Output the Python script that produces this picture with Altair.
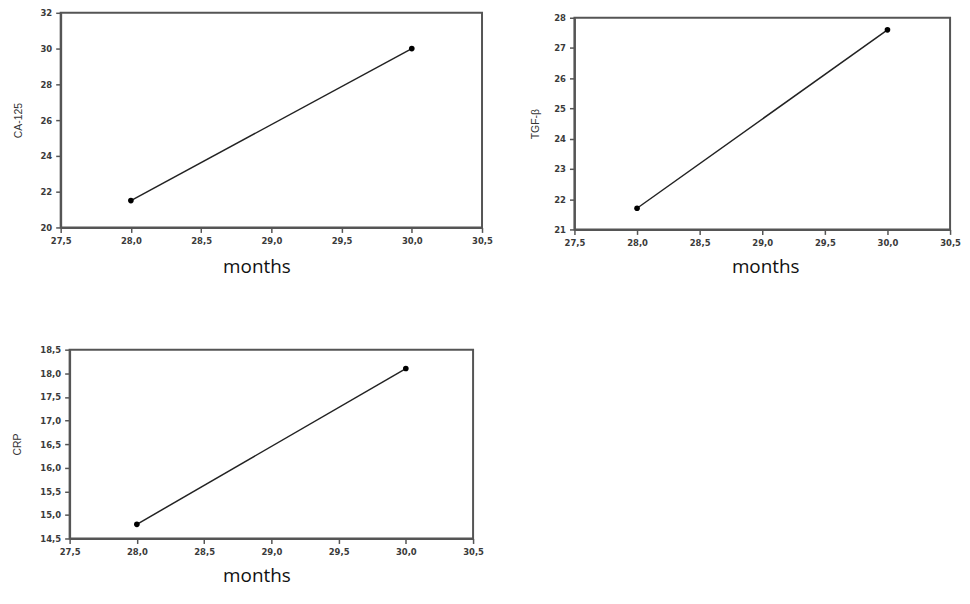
import altair as alt
import pandas as pd

months = [28.0, 30.0]
ca125 = [21.5, 30.0]
tgfb = [21.7, 27.6]
crp = [14.8, 18.1]

x_ticks = [27.5, 28.0, 28.5, 29.0, 29.5, 30.0, 30.5]
ca_ticks = [20, 22, 24, 26, 28, 30, 32]
tgf_ticks = [21, 22, 23, 24, 25, 26, 27, 28]
crp_ticks = [14.5, 15.0, 15.5, 16.0, 16.5, 17.0, 17.5, 18.0, 18.5]

COMMA1 = "replace(format(datum.value, '.1f'), '.', ',')"
LABEL_FONT = "DejaVu Sans"
FRAME = alt.ViewBackground(stroke="#555", strokeWidth=2)


def panel(values, ylabel, ydomain, yticks, ylabelexpr, w, h, titlex, ytp, xtp):
    df = pd.DataFrame({"months": months, "v": values})
    xenc = alt.X(
        "months:Q",
        scale=alt.Scale(domain=[27.5, 30.5], nice=False, zero=False),
        axis=alt.Axis(
            values=x_ticks, labelExpr=COMMA1, title="months",
            titleFont="Open Sans", titleFontSize=19, titleFontWeight="normal",
            titleColor="#111", titlePadding=xtp, titleX=titlex, titleAnchor="middle",
            labelFont=LABEL_FONT, labelFontSize=8.5, labelFontWeight="bold",
            labelColor="#3a3a3a", labelPadding=4, tickSize=5, tickColor="#555",
            tickWidth=1.5, domainColor="#555", domainWidth=2, grid=False,
            labelFlush=False, labelOverlap=False,
        ),
    )
    yaxis = dict(
        values=yticks, title=ylabel,
        titleFont="Liberation Sans", titleFontSize=10.5, titleFontWeight="normal",
        titleColor="#333", titlePadding=ytp,
        labelFont=LABEL_FONT, labelFontSize=8.5, labelFontWeight="bold",
        labelColor="#3a3a3a", labelPadding=4, tickSize=5, tickColor="#555",
        tickWidth=1.5, domainColor="#555", domainWidth=2, grid=False,
        labelFlush=False, labelOverlap=False,
    )
    if ylabelexpr:
        yaxis["labelExpr"] = ylabelexpr
    yenc = alt.Y(
        "v:Q",
        scale=alt.Scale(domain=ydomain, nice=False, zero=False),
        axis=alt.Axis(**yaxis),
    )
    base = alt.Chart(df).encode(x=xenc, y=yenc)
    line = base.mark_line(color="#222", strokeWidth=1.5)
    pts = base.mark_circle(color="black", size=32, opacity=1)
    return (line + pts).properties(width=w, height=h, view=FRAME)


def blank(w, h):
    return alt.Chart(pd.DataFrame({"a": [0]})).mark_rule(
        opacity=0, strokeWidth=0
    ).encode(x=alt.value(0), y=alt.value(0), y2=alt.value(0)).properties(
        width=w, height=h, view=alt.ViewBackground(strokeOpacity=0, fillOpacity=0)
    )


p1 = panel(ca125, "CA-125", [20, 32], ca_ticks, None, 424, 216, 197, 17, 13)
p2 = panel(tgfb, "TGF-β", [21, 28], tgf_ticks, None, 378, 213, 192, 13, 11)
p3 = panel(crp, "CRP", [14.5, 18.5], crp_ticks, COMMA1, 406, 190, 188, 17, 11)

col1 = alt.vconcat(
    alt.hconcat(blank(1, 1), p1, spacing=3),
    alt.hconcat(blank(1, 1), p3, spacing=3),
    spacing=67,
)
col2 = alt.vconcat(blank(1, 1), p2, spacing=-1)

chart = alt.hconcat(col1, col2, spacing=36).properties(
    padding={"left": 0, "top": -2, "right": 0, "bottom": 0}
)

chart.save("out.html", embed_options={"renderer": "svg", "actions": False})
